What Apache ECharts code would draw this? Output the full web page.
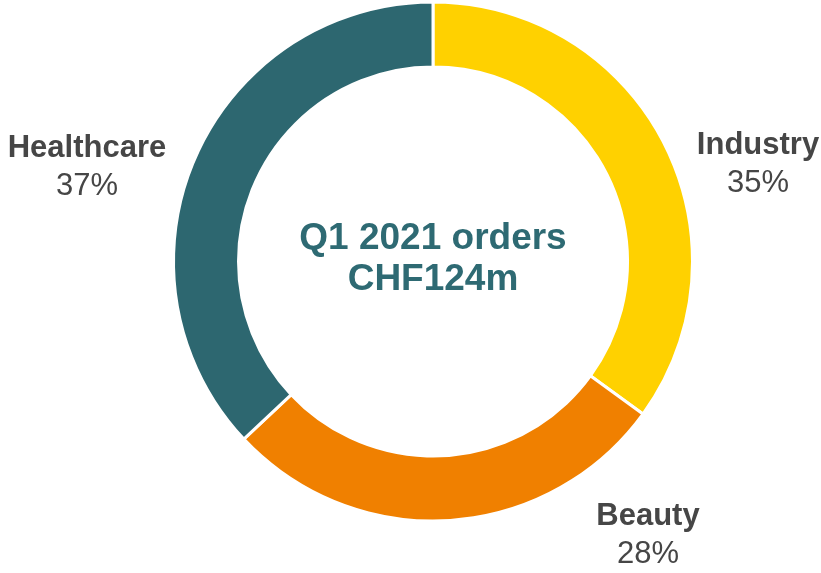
<!DOCTYPE html>
<html>
<head>
<meta charset="utf-8">
<script src="https://cdn.jsdelivr.net/npm/echarts@6/dist/echarts.min.js"></script>
<style>
  html, body { margin: 0; padding: 0; background: #fff; }
  #main { width: 821px; height: 573px; }
</style>
</head>
<body>
<div id="main"></div>
<script>
// segment data, clockwise from 12 o'clock
const segments = ['Industry', 'Beauty', 'Healthcare'];
const shares = [35, 28, 37];
const colors = ['#ffd100', '#f08000', '#2d6770'];
// label anchor spots (name/percent block centres)
const labelSpots = [[758, 164], [648, 535], [87, 167]];

const chart = echarts.init(document.getElementById('main'));

const option = {
  animation: false,
  graphic: [{
    type: 'text',
    x: 433,
    y: 259,
    style: {
      text: 'Q1 2021 orders\nCHF124m',
      align: 'center',
      verticalAlign: 'middle',
      fill: '#2e6a73',
      font: 'bold 37px "Liberation Sans", Arial, sans-serif',
      lineHeight: 41
    }
  }],
  series: [{
    type: 'pie',
    center: [433, 261.5],
    radius: [194.5, 259.5],
    startAngle: 90,
    clockwise: true,
    silent: true,
    itemStyle: {
      borderColor: '#fff',
      borderWidth: 3
    },
    label: {
      show: true,
      position: 'outside',
      overflow: 'none',
      formatter: p => '{n|' + p.name + '}\n{v|' + p.value + '%}',
      rich: {
        n: {
          fontFamily: '"Liberation Sans", Arial, sans-serif',
          fontWeight: 'bold',
          fontSize: 31,
          color: '#464646',
          lineHeight: 38,
          align: 'center'
        },
        v: {
          fontFamily: '"Liberation Sans", Arial, sans-serif',
          fontSize: 31,
          color: '#464646',
          lineHeight: 38,
          align: 'center'
        }
      }
    },
    labelLine: { show: false },
    labelLayout: params => ({
      x: labelSpots[params.dataIndex][0],
      y: labelSpots[params.dataIndex][1],
      align: 'center',
      verticalAlign: 'middle'
    }),
    data: segments.map((name, i) => ({
      name: name,
      value: shares[i],
      itemStyle: { color: colors[i] }
    }))
  }]
};

chart.setOption(option);
</script>
</body>
</html>
